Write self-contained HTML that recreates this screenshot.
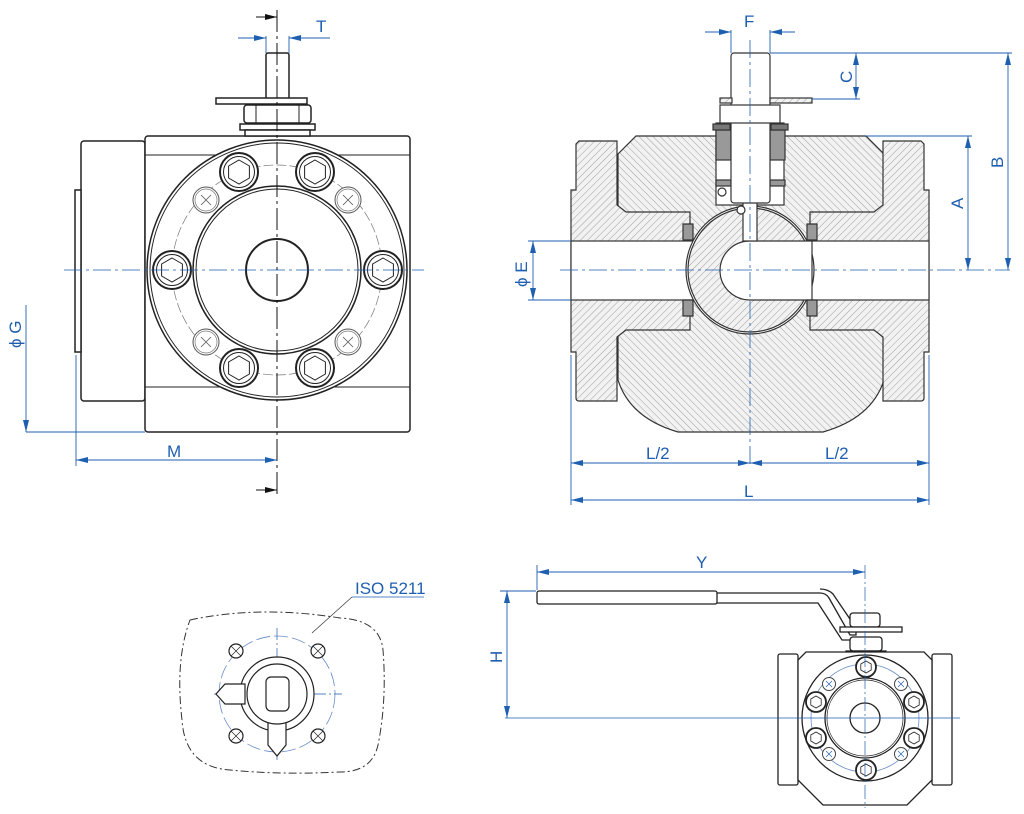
<!DOCTYPE html>
<html><head><meta charset="utf-8"><style>
html,body{margin:0;padding:0;background:#fff;}
svg{display:block;}
text{font-family:"Liberation Sans",sans-serif;fill:#1f5fb0;font-size:17px;}
</style></head><body>
<svg width="1024" height="814" viewBox="0 0 1024 814" xmlns="http://www.w3.org/2000/svg">
<defs>
<pattern id="hA" width="5" height="5" patternUnits="userSpaceOnUse" patternTransform="rotate(45)">
<rect width="5" height="5" fill="#f2f2f2"/><line x1="0" y1="0" x2="0" y2="5" stroke="#8a8a8a" stroke-width="0.8"/></pattern>
<pattern id="hB" width="5" height="5" patternUnits="userSpaceOnUse" patternTransform="rotate(-45)">
<rect width="5" height="5" fill="#f2f2f2"/><line x1="0" y1="0" x2="0" y2="5" stroke="#8a8a8a" stroke-width="0.8"/></pattern>
<marker id="ab" markerWidth="12" markerHeight="6" refX="12" refY="3" orient="auto" markerUnits="userSpaceOnUse"><path d="M0,0 L12,3 L0,6 Z" fill="#1f5fb0"/></marker>
<marker id="ak" markerWidth="12" markerHeight="6" refX="12" refY="3" orient="auto" markerUnits="userSpaceOnUse"><path d="M0,0 L12,3 L0,6 Z" fill="#111"/></marker>
<marker id="abs" markerWidth="12" markerHeight="6" refX="0" refY="3" orient="auto" markerUnits="userSpaceOnUse"><path d="M12,0 L0,3 L12,6 Z" fill="#1f5fb0"/></marker>
<g id="hex"><circle r="19" fill="#fff" stroke="#222" stroke-width="2"/><circle r="15.5" fill="none" stroke="#222" stroke-width="1"/><path d="M0,-12 L10.4,-6 L10.4,6 L0,12 L-10.4,6 L-10.4,-6 Z" fill="none" stroke="#222" stroke-width="1"/></g>
<g id="xh"><circle r="13" fill="#fff" stroke="#555" stroke-width="1"/><circle r="11" fill="none" stroke="#777" stroke-width="0.7"/><path d="M-5,-5 L5,5 M5,-5 L-5,5" stroke="#555" stroke-width="0.8"/></g>
<g id="hexs"><circle r="10" fill="#fff" stroke="#222" stroke-width="1.8"/><path d="M0,-6 L5.2,-3 L5.2,3 L0,6 L-5.2,3 L-5.2,-3 Z" fill="none" stroke="#222" stroke-width="0.8"/></g>
<g id="xs"><circle r="6.5" fill="#fff" stroke="#444" stroke-width="1"/><path d="M-3,-3 L3,3 M3,-3 L-3,3" stroke="#1f5fb0" stroke-width="0.7"/></g>
</defs>

<!-- ===== VIEW 1 ===== -->
<g stroke="#222" fill="#fff" stroke-width="1.5">
<rect x="81" y="141" width="64" height="260" rx="3"/>
<rect x="75" y="190" width="6" height="162"/>
<rect x="145" y="136" width="265" height="296" rx="3"/>
<line x1="145" y1="155" x2="410" y2="155" stroke-width="1"/>
<line x1="145" y1="387" x2="410" y2="387" stroke-width="1"/>
<circle cx="277" cy="270" r="130"/>
<circle cx="277" cy="270" r="127" stroke-width="1"/>
<circle cx="277" cy="270" r="84"/>
<circle cx="277" cy="270" r="81" stroke-width="1"/>
<circle cx="277" cy="270" r="31" stroke-width="2"/>
<rect x="266" y="53" width="23" height="47" rx="2"/>
<rect x="216" y="98" width="91" height="6"/>
<rect x="244" y="105" width="67" height="18" rx="3"/>
<line x1="256" y1="105" x2="256" y2="123" stroke-width="1"/><line x1="299" y1="105" x2="299" y2="123" stroke-width="1"/>
<rect x="240" y="124" width="75" height="6"/>
<rect x="245" y="130" width="65" height="6"/>
</g>
<circle cx="277" cy="270" r="105" fill="none" stroke="#777" stroke-width="0.7" stroke-dasharray="10,3"/>
<use href="#hex" x="239" y="172"/><use href="#hex" x="315" y="172"/>
<use href="#hex" x="172" y="270"/><use href="#hex" x="383" y="270"/>
<use href="#hex" x="239" y="368"/><use href="#hex" x="315" y="368"/>
<use href="#xh" x="206" y="200"/><use href="#xh" x="348" y="200"/>
<use href="#xh" x="206" y="342"/><use href="#xh" x="348" y="342"/>
<line x1="64" y1="270" x2="424" y2="270" stroke="#1f5fb0" stroke-width="0.8" stroke-dasharray="18,4,3,4"/>
<line x1="277" y1="10" x2="277" y2="497" stroke="#111" stroke-width="1" stroke-dasharray="22,4,3,4"/>
<!-- T -->
<g stroke="#1f5fb0" stroke-width="0.9" fill="none">
<line x1="266" y1="36" x2="266" y2="53"/><line x1="289" y1="36" x2="289" y2="53"/>
<line x1="238" y1="38" x2="266" y2="38" marker-end="url(#ab)"/>
<line x1="330" y1="38" x2="289" y2="38" marker-end="url(#ab)"/>
<line x1="26" y1="305" x2="26" y2="432" marker-end="url(#ab)"/>
<line x1="26" y1="432" x2="145" y2="432"/>
<line x1="76" y1="355" x2="76" y2="466"/>
<line x1="76" y1="460" x2="277" y2="460" marker-start="url(#abs)" marker-end="url(#ab)"/>
</g>
<line x1="256" y1="17" x2="277" y2="17" stroke="#111" marker-end="url(#ak)"/>
<line x1="256" y1="490" x2="277" y2="490" stroke="#111" marker-end="url(#ak)"/>
<text x="316" y="32">T</text>
<text x="167" y="457">M</text>
<text transform="translate(21,348) rotate(-90)">ϕ G</text>

<!-- ===== VIEW 2 (section) ===== -->
<g stroke="#333" stroke-width="1.2">
<path d="M636,136 L866,136 L884,154 L884,380 Q872,418 823,432 L678,432 Q630,418 618,380 L618,154 Z" fill="url(#hB)"/>
<path d="M579,141 L617,141 L617,205 L626,212 L690,212 L690,330 L626,330 L617,337 L617,401 L579,401 Q576,401 576,398 L576,352 L571,352 L571,190 L576,190 L576,144 Z" fill="url(#hA)"/>
<path d="M921,141 L883,141 L883,205 L874,212 L810,212 L810,330 L874,330 L883,337 L883,401 L921,401 Q924,401 924,398 L924,352 L929,352 L929,190 L924,190 L924,144 Z" fill="url(#hA)"/>
<rect x="571" y="241" width="358" height="59" fill="#fff"/>
<rect x="716" y="123" width="68" height="82" fill="#fff"/>
<rect x="716" y="130" width="15" height="30" fill="#999"/><rect x="770" y="130" width="15" height="30" fill="#999"/>
<rect x="716" y="180" width="15" height="6" fill="#999"/><rect x="770" y="180" width="15" height="6" fill="#999"/>
<circle cx="750" cy="270" r="64" fill="#fff"/>
<circle cx="750" cy="270" r="62" fill="url(#hA)"/>
<path d="M750,241 A30,29.5 0 0 0 750,300 L812,300 L812,241 Z" fill="#fff"/>
<rect x="743" y="200" width="14" height="41" fill="#fff"/>
<path d="M683,224 L693,224 L693,240 L683,240 Z M683,300 L693,300 L693,316 L683,316 Z M807,224 L817,224 L817,240 L807,240 Z M807,300 L817,300 L817,316 L807,316 Z" fill="#999"/>
<rect x="731" y="53" width="39" height="150" rx="3" fill="#fff"/>
<rect x="720" y="98" width="12" height="5" fill="url(#hA)"/><rect x="770" y="98" width="42" height="5" fill="url(#hA)"/>
<rect x="720" y="105" width="60" height="18" fill="#fff"/>
<rect x="713" y="124" width="17" height="6" fill="#777"/><rect x="771" y="124" width="17" height="6" fill="#777"/>
<circle cx="741" cy="210" r="4" fill="#fff"/><circle cx="722" cy="192" r="4" fill="#fff"/>
</g>
<line x1="750" y1="40" x2="750" y2="465" stroke="#1f5fb0" stroke-width="0.8" stroke-dasharray="18,4,3,4"/>
<line x1="560" y1="270" x2="1010" y2="270" stroke="#1f5fb0" stroke-width="0.8" stroke-dasharray="18,4,3,4"/>
<g stroke="#1f5fb0" stroke-width="0.9" fill="none">
<line x1="731" y1="30" x2="731" y2="53"/><line x1="770" y1="30" x2="770" y2="53"/>
<line x1="705" y1="32" x2="731" y2="32" marker-end="url(#ab)"/>
<line x1="795" y1="32" x2="770" y2="32" marker-end="url(#ab)"/>
<line x1="770" y1="53" x2="1012" y2="53"/>
<line x1="812" y1="99" x2="860" y2="99"/>
<line x1="856" y1="53" x2="856" y2="99" marker-start="url(#abs)" marker-end="url(#ab)"/>
<line x1="1008" y1="53" x2="1008" y2="270" marker-start="url(#abs)" marker-end="url(#ab)"/>
<line x1="866" y1="136" x2="972" y2="136"/>
<line x1="968" y1="136" x2="968" y2="270" marker-start="url(#abs)" marker-end="url(#ab)"/>
<line x1="528" y1="241" x2="571" y2="241"/><line x1="528" y1="300" x2="571" y2="300"/>
<line x1="533" y1="241" x2="533" y2="300" marker-start="url(#abs)" marker-end="url(#ab)"/>
<line x1="571" y1="355" x2="571" y2="505"/><line x1="929" y1="355" x2="929" y2="505"/>
<line x1="571" y1="463" x2="750" y2="463" marker-start="url(#abs)" marker-end="url(#ab)"/>
<line x1="929" y1="463" x2="750" y2="463" marker-start="url(#abs)" marker-end="url(#ab)"/>
<line x1="571" y1="500" x2="929" y2="500" marker-start="url(#abs)" marker-end="url(#ab)"/>
</g>
<text x="744" y="27">F</text>
<text transform="translate(852,83) rotate(-90)">C</text>
<text transform="translate(1003,168) rotate(-90)">B</text>
<text transform="translate(963,209) rotate(-90)">A</text>
<text transform="translate(527,287) rotate(-90)">ϕ E</text>
<text x="646" y="459">L/2</text>
<text x="825" y="459">L/2</text>
<text x="744" y="497">L</text>

<!-- ===== VIEW 3 (ISO) ===== -->
<path d="M190,620 Q260,605 340,618 Q380,620 383,650 Q387,700 378,745 Q372,772 340,772 Q280,775 230,770 Q185,767 182,720 Q175,660 190,620 Z" fill="none" stroke="#333" stroke-width="1" stroke-dasharray="8,3,2,3"/>
<circle cx="277" cy="694" r="58" fill="none" stroke="#6a8fc8" stroke-width="0.8" stroke-dasharray="14,4"/>
<line x1="214" y1="694" x2="342" y2="694" stroke="#1f5fb0" stroke-width="0.7" stroke-dasharray="12,3,2,3"/>
<line x1="277" y1="628" x2="277" y2="760" stroke="#1f5fb0" stroke-width="0.7" stroke-dasharray="12,3,2,3"/>
<g stroke="#222" stroke-width="1.2" fill="#fff">
<circle cx="236" cy="651" r="7"/><circle cx="318" cy="651" r="7"/><circle cx="236" cy="736" r="7"/><circle cx="318" cy="736" r="7"/>
<path d="M231,646 L241,656 M241,646 L231,656 M313,646 L323,656 M323,646 L313,656 M231,731 L241,741 M241,731 L231,741 M313,731 L323,741 M323,731 L313,741" stroke-width="0.7"/>
<circle cx="277" cy="694" r="37"/>
<path d="M245,684 L225,684 L216,694 L225,704 L245,704 Z"/>
<path d="M268,715 L268,745 L277,756 L286,745 L286,715 Z"/>
<circle cx="277" cy="694" r="30"/>
<rect x="266" y="677" width="23" height="34" rx="5"/>
</g>
<line x1="312" y1="633" x2="352" y2="597" stroke="#333" stroke-width="0.7"/>
<line x1="352" y1="597" x2="424" y2="597" stroke="#1f5fb0" stroke-width="0.8"/>
<text x="355" y="594">ISO 5211</text>

<!-- ===== VIEW 4 ===== -->
<g stroke="#222" stroke-width="1.3" fill="#fff">
<rect x="537" y="591" width="180" height="13" rx="2"/>
<path d="M717,593 L820,593 Q826,593 829,598 L850,635 L856,635 L856,628 L833,594 Q828,589 820,589" fill="none"/>
<path d="M717,603 L818,603 L842,640 L850,640" fill="none"/>
<rect x="850" y="613" width="30" height="14" rx="3"/>
<rect x="840" y="627" width="62" height="5"/>
<rect x="850" y="637" width="32" height="14" rx="3"/>
<rect x="846" y="651" width="40" height="5"/>
<rect x="778" y="654" width="20" height="131" rx="2"/>
<rect x="932" y="654" width="20" height="131" rx="2"/>
<path d="M806,652 L924,652 L932,660 L932,780 L907,805 L823,805 L798,780 L798,660 Z"/>
<circle cx="865" cy="718" r="63"/>
<circle cx="865" cy="718" r="40"/>
<circle cx="865" cy="718" r="38" stroke-width="0.7"/>
<circle cx="865" cy="718" r="15"/>
</g>
<circle cx="865" cy="718" r="54" fill="none" stroke="#6a8fc8" stroke-width="0.8"/>
<use href="#hexs" x="866" y="667"/><use href="#hexs" x="816" y="702"/><use href="#hexs" x="816" y="738"/>
<use href="#hexs" x="914" y="702"/><use href="#hexs" x="914" y="738"/><use href="#hexs" x="866" y="770"/>
<use href="#xs" x="829" y="684"/><use href="#xs" x="901" y="684"/><use href="#xs" x="829" y="754"/><use href="#xs" x="901" y="754"/>
<g stroke="#1f5fb0" stroke-width="0.9" fill="none">
<line x1="865" y1="565" x2="865" y2="808" stroke-dasharray="14,3,2,3" stroke-width="0.7"/>
<line x1="537" y1="565" x2="537" y2="590"/>
<line x1="537" y1="572" x2="865" y2="572" marker-start="url(#abs)" marker-end="url(#ab)"/>
<line x1="500" y1="591" x2="536" y2="591"/>
<line x1="505" y1="718" x2="960" y2="718" stroke-width="0.7"/>
<line x1="507" y1="591" x2="507" y2="718" marker-start="url(#abs)" marker-end="url(#ab)"/>
</g>
<text x="696" y="568">Y</text>
<text transform="translate(502,663) rotate(-90)">H</text>
</svg>
</body></html>
